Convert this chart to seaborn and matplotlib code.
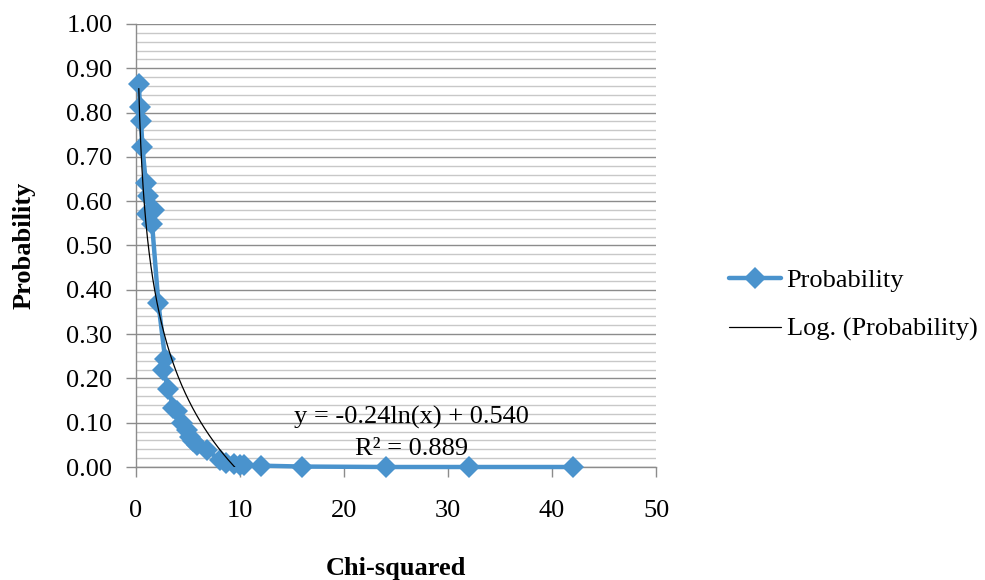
import numpy as np
import pandas as pd
import matplotlib
matplotlib.use("Agg")
import matplotlib.pyplot as plt
import seaborn as sns
from matplotlib.ticker import MultipleLocator, FormatStrFormatter

# ---- data ----
chi_squared = [0.27, 0.38, 0.48, 0.62, 0.95, 1.15, 1.70, 1.05, 1.55, 2.15,
               2.80, 2.64, 3.10, 3.60, 3.90, 4.40, 4.90, 5.20, 5.50, 5.90,
               6.80, 8.10, 8.70, 9.40, 10.0, 10.4, 12.0, 16.0, 24.0, 32.0, 42.0]
probability = [0.865, 0.813, 0.781, 0.723, 0.640, 0.612, 0.580, 0.570, 0.548, 0.370,
               0.244, 0.219, 0.176, 0.134, 0.126, 0.100, 0.083, 0.068, 0.058, 0.050,
               0.038, 0.016, 0.010, 0.006, 0.005, 0.004, 0.003, 0.001, 0.000, 0.000, 0.000]
trend_slope = -0.24
trend_intercept = 0.540
r_squared = 0.889

x_ticks = [0, 10, 20, 30, 40, 50]

series_label = "Probability"
trend_label = "Log. (Probability)"
equation_text = "y = -0.24ln(x) + 0.540"
r2_text = "R\u00b2 = 0.889"

df = pd.DataFrame({"x": chi_squared, "y": probability})
xt = np.linspace(min(chi_squared), max(chi_squared), 2000)
trend_df = pd.DataFrame({"x": xt, "y": trend_slope * np.log(xt) + trend_intercept})

# ---- style ----
sns.set_theme(style="white")
plt.rcParams["font.family"] = ["Liberation Serif", "DejaVu Serif"]
plt.rcParams["text.color"] = "black"
plt.rcParams["axes.labelcolor"] = "black"
plt.rcParams["xtick.color"] = "black"
plt.rcParams["ytick.color"] = "black"

blue = "#4A93CD"
fs = 19

fig = plt.figure(figsize=(9.85, 5.80), dpi=100)
ax = fig.add_axes([136 / 985, 113 / 580, 520 / 985, 443 / 580])

sns.lineplot(data=df, x="x", y="y", sort=False, estimator=None, ax=ax,
             color=blue, linewidth=3.2, marker="D", markersize=11,
             markeredgewidth=0, label=series_label, zorder=3)
sns.lineplot(data=trend_df, x="x", y="y", sort=False, estimator=None, ax=ax,
             color="black", linewidth=0.9, label=trend_label, zorder=4)

ax.lines[0].set_clip_on(False)

ax.set_xlim(0, 50)
ax.set_ylim(0, 1.0)
ax.set_xticks(x_ticks)
ax.yaxis.set_major_locator(MultipleLocator(0.1))
ax.yaxis.set_minor_locator(MultipleLocator(0.02))
ax.yaxis.set_major_formatter(FormatStrFormatter("%.2f"))

ax.grid(axis="y", which="major", color="#8C8C8C", linewidth=1.0, zorder=0)
ax.grid(axis="y", which="minor", color="#C8C8C8", linewidth=1.0, zorder=0)
ax.grid(axis="x", visible=False)
ax.set_axisbelow(True)

for s in ["top", "right"]:
    ax.spines[s].set_visible(False)
for s in ["left", "bottom"]:
    ax.spines[s].set_color("#8C8C8C")
    ax.spines[s].set_linewidth(1.0)

ax.tick_params(axis="y", which="major", direction="out", length=7, width=1,
               color="#8C8C8C", labelcolor="black", pad=10, labelsize=fs, left=True)
ax.tick_params(axis="y", which="minor", length=0)
ax.tick_params(axis="x", which="major", direction="out", length=7, width=1,
               color="#8C8C8C", labelcolor="black", pad=17, labelsize=fs, bottom=True)

ax.set_xlabel("Chi-squared", fontsize=fs, fontweight="bold", labelpad=25, color="black")
ax.set_ylabel("Probability", fontsize=fs, fontweight="bold", labelpad=22, color="black")

ax.text(26.5, 0.112, equation_text, fontsize=fs, ha="center", va="center", color="black")
ax.text(26.5, 0.040, r2_text, fontsize=fs, ha="center", va="center", color="black")

leg = ax.legend(loc="center left", bbox_to_anchor=(718 / 985, 275 / 580),
                bbox_transform=fig.transFigure, frameon=False, fontsize=fs,
                handlelength=2.0, handletextpad=0.2, labelspacing=0.95,
                borderaxespad=0)
for t in leg.get_texts():
    t.set_color("black")

fig.savefig("out.png", dpi=100)
